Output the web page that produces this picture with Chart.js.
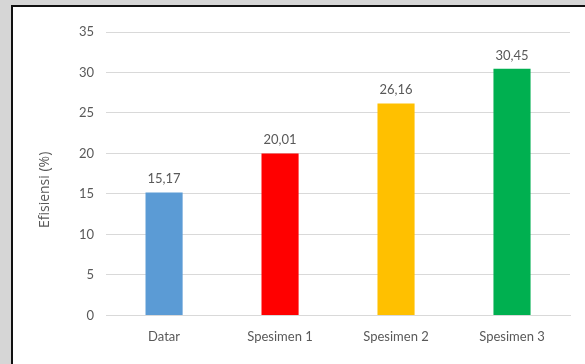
<!DOCTYPE html>
<html>
<head>
<meta charset="utf-8">
<script src="https://cdn.jsdelivr.net/npm/chart.js@4"></script>
<style>
  html, body { margin: 0; padding: 0; }
  body { width: 585px; height: 364px; background: #d6d6d6; position: relative; overflow: hidden; }
  .frame { position: absolute; left: 11px; top: 5px; width: 620px; height: 420px;
           background: #fff; border-left: 2px solid #111; border-top: 2px solid #111; }
  #wrap { position: absolute; left: 0; top: 0; width: 585px; height: 364px; }
</style>
</head>
<body>
<div class="frame"></div>
<div id="wrap"><canvas id="c" width="585" height="364"></canvas></div>
<script>
const categories = ['Datar', 'Spesimen 1', 'Spesimen 2', 'Spesimen 3'];
const efficiency = [15.17, 20.01, 26.16, 30.45];
const barColors = ['#5B9BD5', '#FF0000', '#FFC000', '#00B050'];
const yTicks = [0, 5, 10, 15, 20, 25, 30, 35];
const yTitle = 'Efisiensi (%)';

const textColor = '#595959';
const fontFamily = 'Lato, "Open Sans", sans-serif';

// Writes each bar's value above it, using a comma as decimal separator.
const valueLabels = {
  id: 'valueLabels',
  afterDatasetsDraw(chart) {
    const ctx = chart.ctx;
    const meta = chart.getDatasetMeta(0);
    ctx.save();
    ctx.fillStyle = textColor;
    ctx.font = '13px ' + fontFamily;
    ctx.textAlign = 'center';
    ctx.textBaseline = 'bottom';
    meta.data.forEach((bar, i) => {
      const txt = efficiency[i].toFixed(2).replace('.', ',');
      ctx.fillText(txt, bar.x, bar.y - 7);
    });
    ctx.restore();
  }
};

// Rotated value-axis title, placed in the space reserved by the left padding.
const axisTitle = {
  id: 'axisTitle',
  afterDraw(chart) {
    const ctx = chart.ctx;
    const y = chart.scales.y;
    ctx.save();
    ctx.translate(45, y.getPixelForValue(15.5));
    ctx.rotate(-Math.PI / 2);
    ctx.fillStyle = textColor;
    ctx.font = '14px "Open Sans", sans-serif';
    ctx.textAlign = 'center';
    ctx.textBaseline = 'middle';
    ctx.fillText(yTitle, 0, 0);
    ctx.restore();
  }
};

new Chart(document.getElementById('c'), {
  type: 'bar',
  data: {
    labels: categories,
    datasets: [{
      data: efficiency,
      backgroundColor: barColors,
      borderWidth: 0,
      categoryPercentage: 1,
      barPercentage: 0.32
    }]
  },
  options: {
    responsive: false,
    animation: false,
    layout: { padding: { top: 32, right: 15, bottom: 5, left: 67 } },
    plugins: { legend: { display: false }, tooltip: { enabled: false } },
    scales: {
      x: {
        grid: { display: false, drawTicks: false },
        border: { display: true, color: '#d9d9d9', width: 1 },
        ticks: { color: textColor, font: { family: fontFamily, size: 13 }, padding: 14 }
      },
      y: {
        min: 0, max: 35,
        afterBuildTicks(scale) { scale.ticks = yTicks.map(v => ({ value: v })); },
        grid: { color: '#d9d9d9', drawTicks: false },
        border: { display: false },
        ticks: { color: textColor, font: { family: fontFamily, size: 13 }, padding: 12 },
        title: { display: false }
      }
    }
  },
  plugins: [valueLabels, axisTitle]
});
</script>
</body>
</html>
